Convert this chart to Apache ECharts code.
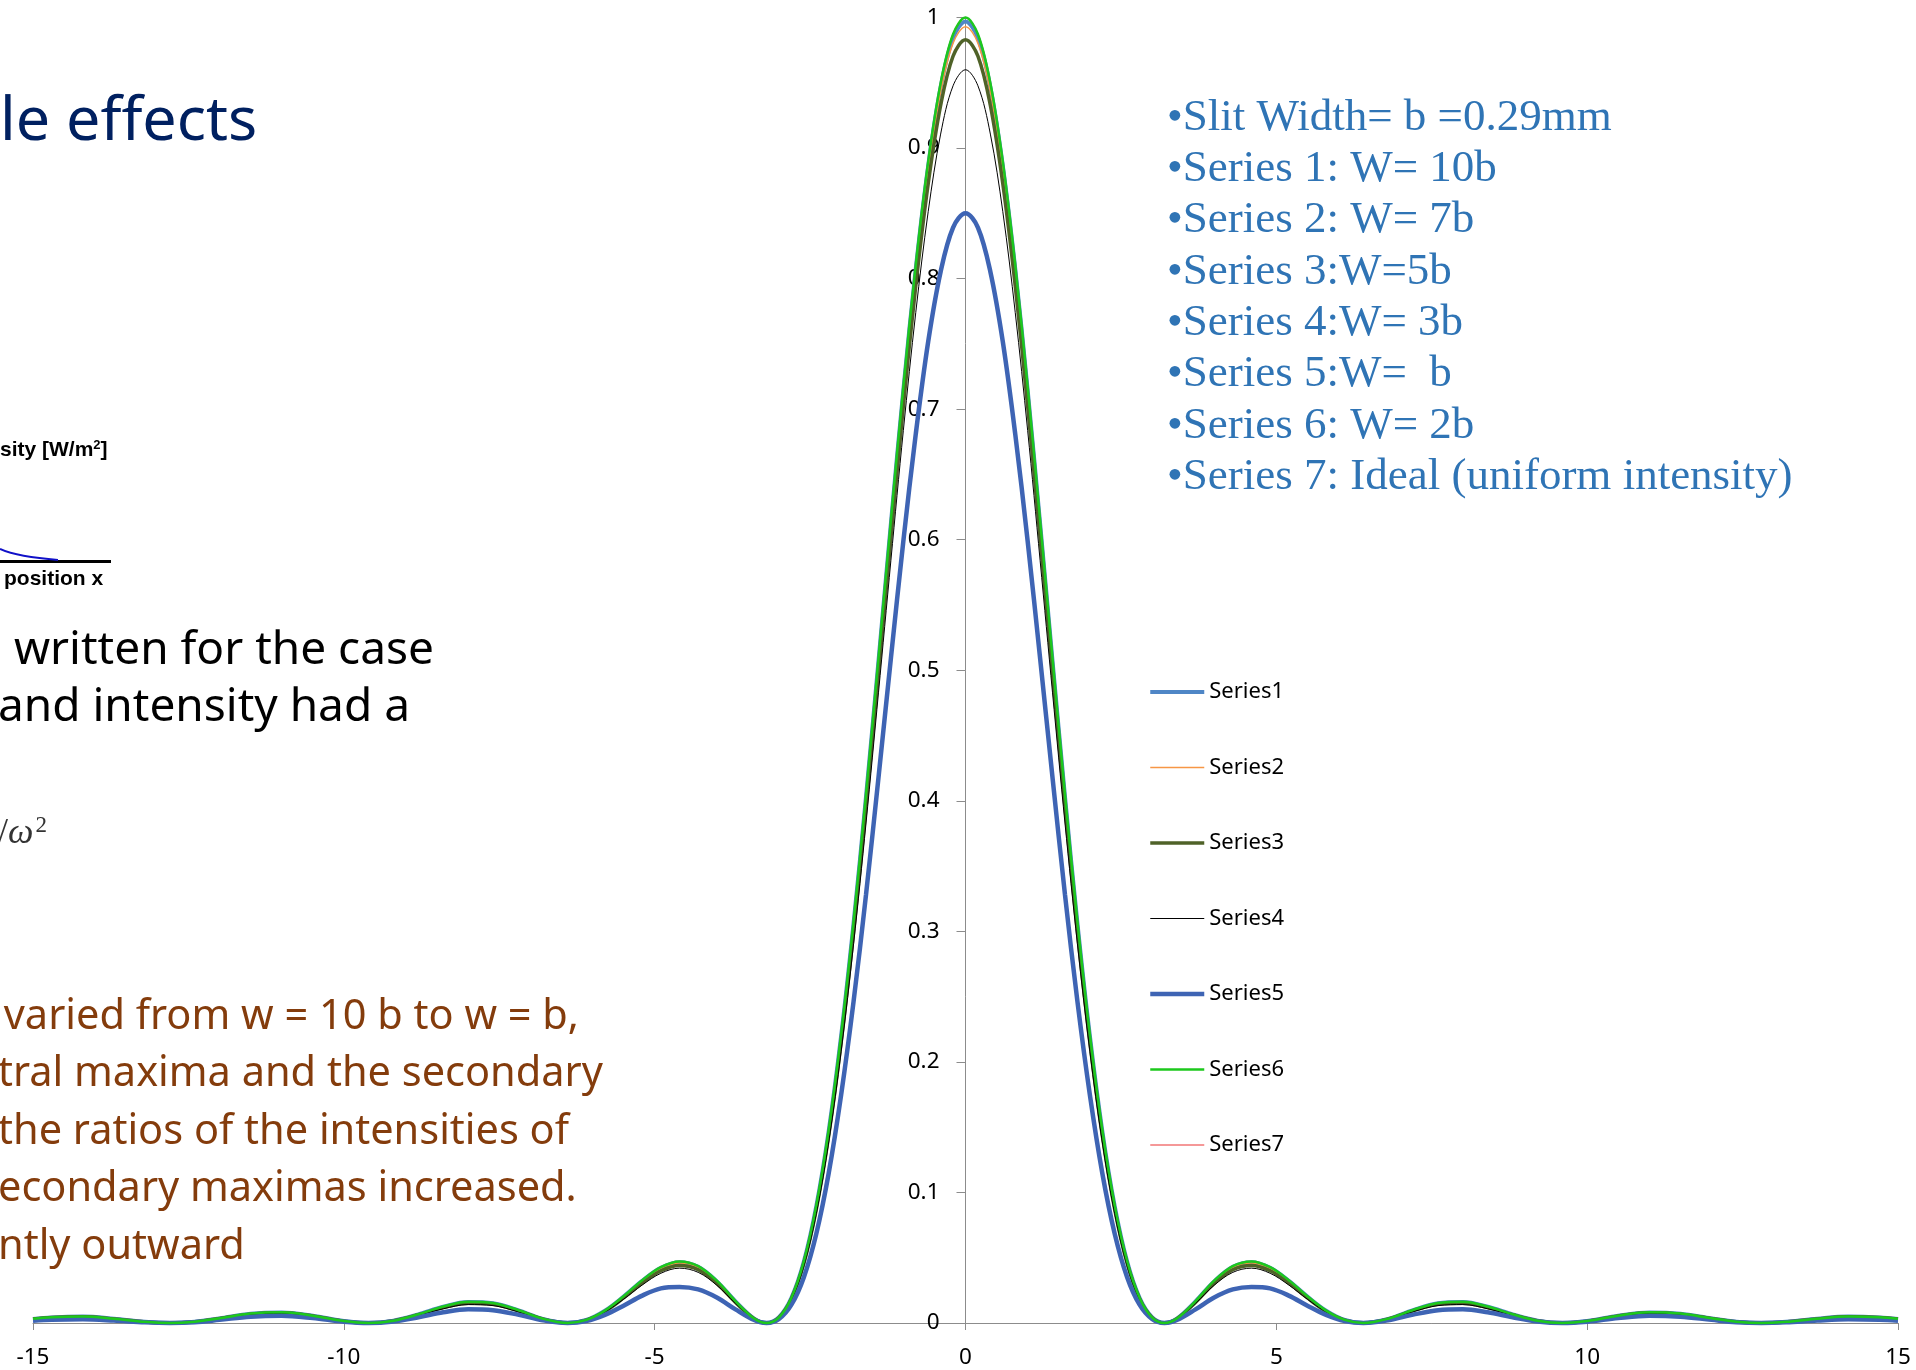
<!DOCTYPE html>
<html>
<head>
<meta charset="utf-8">
<script src="https://cdn.jsdelivr.net/npm/echarts@6/dist/echarts.min.js"></script>
<style>
html,body{margin:0;padding:0;background:#fff;}
#chart{width:1916px;height:1370px;}
</style>
</head>
<body>
<div id="chart"></div>
<script>
// x positions (horizontal axis)
const xValues = [-15,-14.7,-14.2,-13.7,-13.2,-12.8,-12.4,-12,-11.5,-11,-10.5,-10,-9.6,-9.2,-8.8,-8.4,-8,-7.6,-7.2,-6.8,-6.4,-6.1,-5.8,-5.5,-5.2,-4.9,-4.6,-4.3,-4,-3.7,-3.4,-3.2,-3,-2.8,-2.6,-2.4,-2.2,-2,-1.8,-1.6,-1.4,-1.2,-1,-0.8,-0.6,-0.4,-0.2,
0,0.2,0.4,0.6,0.8,1,1.2,1.4,1.6,1.8,2,2.2,2.4,2.6,2.8,3,3.2,3.4,3.7,4,4.3,4.6,4.9,5.2,5.5,5.8,6.1,6.4,6.8,7.2,7.6,8,8.4,8.8,9.2,9.6,10,10.5,11,11.5,12,12.4,12.8,13.2,13.7,14.2,14.7,15];

const series1 = [0.0031,0.0043,0.0049,0.0033,0.0009,0,0.0010,0.0035,0.0071,0.0081,0.0055,0.0015,0,0.0018,0.0066,0.0124,0.0160,0.0151,0.0099,0.0032,0,0.0023,0.0094,0.0202,0.0323,0.0422,0.0465,0.0430,0.0319,0.0166,0.0034,0,0.0044,0.0192,0.0470,0.0895,0.1473,0.2202,0.3065,0.4034,0.5070,0.6125,0.7145,0.8076,0.8865,0.9467,0.9843,
0.997,0.9843,0.9467,0.8865,0.8076,0.7145,0.6125,0.5070,0.4034,0.3065,0.2202,0.1473,0.0895,0.0470,0.0192,0.0044,0,0.0034,0.0166,0.0319,0.0430,0.0465,0.0422,0.0323,0.0202,0.0094,0.0023,0,0.0032,0.0099,0.0151,0.0160,0.0124,0.0066,0.0018,0,0.0015,0.0055,0.0081,0.0071,0.0035,0.0010,0,0.0009,0.0033,0.0049,0.0043,0.0031];

const series2 = [0.0031,0.0043,0.0048,0.0032,0.0008,0,0.0010,0.0035,0.0070,0.0080,0.0055,0.0015,0,0.0018,0.0065,0.0122,0.0158,0.0150,0.0098,0.0032,0,0.0023,0.0093,0.0200,0.0319,0.0417,0.0460,0.0425,0.0316,0.0164,0.0033,0,0.0043,0.0191,0.0467,0.0888,0.1463,0.2187,0.3047,0.4012,0.5041,0.6094,0.7108,0.8041,0.8824,0.9430,0.9803,
0.993,0.9803,0.9430,0.8824,0.8041,0.7108,0.6094,0.5041,0.4012,0.3047,0.2187,0.1463,0.0888,0.0467,0.0191,0.0043,0,0.0033,0.0164,0.0316,0.0425,0.0460,0.0417,0.0319,0.0200,0.0093,0.0023,0,0.0032,0.0098,0.0150,0.0158,0.0122,0.0065,0.0018,0,0.0015,0.0055,0.0080,0.0070,0.0035,0.0010,0,0.0008,0.0032,0.0048,0.0043,0.0031];

const series3 = [0.0030,0.0042,0.0047,0.0031,0.0008,0,0.0009,0.0034,0.0068,0.0078,0.0053,0.0014,0,0.0017,0.0063,0.0118,0.0152,0.0144,0.0094,0.0031,0,0.0022,0.0089,0.0192,0.0306,0.0400,0.0441,0.0408,0.0303,0.0157,0.0032,0,0.0042,0.0186,0.0457,0.0871,0.1436,0.2150,0.2997,0.3951,0.4975,0.6015,0.7022,0.7944,0.8726,0.9326,0.9704,
0.983,0.9704,0.9326,0.8726,0.7944,0.7022,0.6015,0.4975,0.3951,0.2997,0.2150,0.1436,0.0871,0.0457,0.0186,0.0042,0,0.0032,0.0157,0.0303,0.0408,0.0441,0.0400,0.0306,0.0192,0.0089,0.0022,0,0.0031,0.0094,0.0144,0.0152,0.0118,0.0063,0.0017,0,0.0014,0.0053,0.0078,0.0068,0.0034,0.0009,0,0.0008,0.0031,0.0047,0.0042,0.0030];

const series4 = [0.0029,0.0040,0.0045,0.0030,0.0008,0,0.0009,0.0032,0.0065,0.0074,0.0051,0.0014,0,0.0016,0.0058,0.0109,0.0141,0.0133,0.0087,0.0029,0,0.0021,0.0085,0.0182,0.0291,0.0381,0.0420,0.0388,0.0289,0.0151,0.0031,0,0.0040,0.0178,0.0438,0.0838,0.1386,0.2081,0.2905,0.3830,0.4827,0.5842,0.6836,0.7741,0.8513,0.9107,0.9477,
0.960,0.9477,0.9107,0.8513,0.7741,0.6836,0.5842,0.4827,0.3830,0.2905,0.2081,0.1386,0.0838,0.0438,0.0178,0.0040,0,0.0031,0.0151,0.0289,0.0388,0.0420,0.0381,0.0291,0.0182,0.0085,0.0021,0,0.0029,0.0087,0.0133,0.0141,0.0109,0.0058,0.0016,0,0.0014,0.0051,0.0074,0.0065,0.0032,0.0009,0,0.0008,0.0030,0.0045,0.0040,0.0029];

const series5 = [0.0018,0.0025,0.0028,0.0019,0.0005,0,0.0006,0.0024,0.0048,0.0055,0.0038,0.0010,0,0.0012,0.0044,0.0082,0.0105,0.0098,0.0064,0.0021,0,0.0015,0.0062,0.0133,0.0210,0.0265,0.0276,0.0257,0.0195,0.0104,0.0023,0,0.0031,0.0140,0.0351,0.0684,0.1149,0.1749,0.2464,0.3283,0.4176,0.5092,0.5989,0.6809,0.7517,0.8053,0.8391,
0.850,0.8391,0.8053,0.7517,0.6809,0.5989,0.5092,0.4176,0.3283,0.2464,0.1749,0.1149,0.0684,0.0351,0.0140,0.0031,0,0.0023,0.0104,0.0195,0.0257,0.0276,0.0265,0.0210,0.0133,0.0062,0.0015,0,0.0021,0.0064,0.0098,0.0105,0.0082,0.0044,0.0012,0,0.0010,0.0038,0.0055,0.0048,0.0024,0.0006,0,0.0005,0.0019,0.0028,0.0025,0.0018];

const series6 = [0.0032,0.0044,0.0050,0.0033,0.0009,0,0.0010,0.0036,0.0072,0.0083,0.0056,0.0015,0,0.0018,0.0067,0.0126,0.0162,0.0153,0.0100,0.0033,0,0.0024,0.0095,0.0205,0.0328,0.0428,0.0472,0.0436,0.0324,0.0168,0.0034,0,0.0044,0.0194,0.0474,0.0901,0.1482,0.2214,0.3080,0.4053,0.5092,0.6150,0.7173,0.8106,0.8896,0.9497,0.9872,
1.000,0.9872,0.9497,0.8896,0.8106,0.7173,0.6150,0.5092,0.4053,0.3080,0.2214,0.1482,0.0901,0.0474,0.0194,0.0044,0,0.0034,0.0168,0.0324,0.0436,0.0472,0.0428,0.0328,0.0205,0.0095,0.0024,0,0.0033,0.0100,0.0153,0.0162,0.0126,0.0067,0.0018,0,0.0015,0.0056,0.0083,0.0072,0.0036,0.0010,0,0.0009,0.0033,0.0050,0.0044,0.0032];

const series7 = [0.0032,0.0044,0.0050,0.0033,0.0009,0,0.0010,0.0036,0.0072,0.0083,0.0056,0.0015,0,0.0018,0.0067,0.0126,0.0162,0.0153,0.0100,0.0033,0,0.0024,0.0095,0.0205,0.0328,0.0428,0.0472,0.0436,0.0324,0.0168,0.0034,0,0.0044,0.0194,0.0474,0.0901,0.1482,0.2214,0.3080,0.4053,0.5092,0.6150,0.7173,0.8106,0.8896,0.9497,0.9872,
1.000,0.9872,0.9497,0.8896,0.8106,0.7173,0.6150,0.5092,0.4053,0.3080,0.2214,0.1482,0.0901,0.0474,0.0194,0.0044,0,0.0034,0.0168,0.0324,0.0436,0.0472,0.0428,0.0328,0.0205,0.0095,0.0024,0,0.0033,0.0100,0.0153,0.0162,0.0126,0.0067,0.0018,0,0.0015,0.0056,0.0083,0.0072,0.0036,0.0010,0,0.0009,0.0033,0.0050,0.0044,0.0032];

const seriesNames = ['Series1','Series2','Series3','Series4','Series5','Series6','Series7'];
const seriesValues = [series1, series2, series3, series4, series5, series6, series7];

const xTickLabels = ['-15','-10','-5','0','5','10','15'];
const yTickLabels = ['0','0.1','0.2','0.3','0.4','0.5','0.6','0.7','0.8','0.9','1'];

const blueNotes = [
  '\u2022Slit Width= b =0.29mm',
  '\u2022Series 1: W= 10b',
  '\u2022Series 2: W= 7b',
  '\u2022Series 3:W=5b',
  '\u2022Series 4:W= 3b',
  '\u2022Series 5:W=  b',
  '\u2022Series 6: W= 2b',
  '\u2022Series 7: Ideal (uniform intensity)'
];
const brownNotes = [
  ' varied from w = 10 b to w = b,',
  'tral maxima and the secondary',
  'the ratios of the intensities of',
  'econdary maximas increased.',
  'ntly outward'
];
const blackNotes = [' written for the case', 'and intensity had a'];

const styles = [
  {color:'#4F86C6', width:4},
  {color:'#F79646', width:1.5},
  {color:'#4F6228', width:3.5},
  {color:'#000000', width:1},
  {color:'#3E64B4', width:4.5},
  {color:'#1DC81D', width:2.5},
  {color:'#F27676', width:1.5}
];

const chart = echarts.init(document.getElementById('chart'), null, {renderer:'canvas'});

const series = seriesNames.map((name, i) => ({
  name: name,
  type: 'line',
  data: xValues.map((x, k) => [x, seriesValues[i][k]]),
  symbol: 'none',
  smooth: 0.35,
  clip: false,
  z: i === 6 ? 1 : 2 + (i === 5 ? 1 : 0),
  lineStyle: {color: styles[i].color, width: styles[i].width},
  itemStyle: {color: styles[i].color},
  animation: false
}));

const graphics = [];
graphics.push({type:'text', style:{text:'le effects', x:0, y:123, textVerticalAlign:'middle', font:'61px "Noto Sans"', fill:'#002060'}});
graphics.push({type:'text', style:{text:'{a|sity [W/m}{s|2}{a|]}', x:0, y:450, textVerticalAlign:'middle', rich:{a:{font:'bold 21px "Liberation Sans"', fill:'#000'}, s:{font:'bold 13px "Liberation Sans"', fill:'#000', padding:[0,0,9,0]}}}});
graphics.push({type:'text', style:{text:'position x', x:4, y:579, textVerticalAlign:'middle', font:'bold 21px "Liberation Sans"', fill:'#000'}});
graphics.push({type:'line', shape:{x1:0, y1:561.5, x2:111, y2:561.5}, style:{stroke:'#000', lineWidth:3}});
graphics.push({type:'bezierCurve', shape:{x1:0, y1:549, cpx1:18, cpy1:557, x2:58, y2:560}, style:{stroke:'#1010C8', lineWidth:2, fill:null}});
blackNotes.forEach((t, i) => {
  graphics.push({type:'text', style:{text:t, x: i === 0 ? 2 : -2, y:651 + i*57, textVerticalAlign:'middle', font:'46px "Noto Sans"', fill:'#000'}});
});
graphics.push({type:'text', style:{text:'{a|/}{w|\u03C9}{s|2}', x:-2, y:834, textVerticalAlign:'middle', rich:{a:{font:'36px "Liberation Serif"', fill:'#333'}, w:{font:'italic 36px "Liberation Serif"', fill:'#333'}, s:{font:'23px "Liberation Serif"', fill:'#333', padding:[0,0,17,2]}}}});
brownNotes.forEach((t, i) => {
  graphics.push({type:'text', style:{text:t, x: i === 0 ? -7 : -2, y:1017 + i*57.5, textVerticalAlign:'middle', font:'41.5px "Noto Sans"', fill:'#843C0C'}});
});
blueNotes.forEach((t, i) => {
  graphics.push({type:'text', style:{text:t, x:1167, y:118 + i*51.3, textVerticalAlign:'middle', font:'45px "Liberation Serif"', fill:'#2F74B5'}});
});

const legendData = seriesNames.map((name, i) => ({
  name: name,
  lineStyle: {width: styles[i].width, color: styles[i].color},
  itemStyle: {opacity: 0}
}));

const option = {
  animation: false,
  backgroundColor: '#ffffff',
  grid: {left:33, right:18, top:17.5, bottom:47, containLabel:false},
  xAxis: {
    type:'value', min:-15, max:15, interval:5,
    axisLine:{onZero:true, lineStyle:{color:'#8C8C8C', width:1}},
    axisTick:{show:true, length:7, inside:false, lineStyle:{color:'#8C8C8C'}},
    axisLabel:{margin:23, fontFamily:'Noto Sans', fontSize:22.5, color:'#000',
      formatter: (v) => xTickLabels[Math.round((v + 15) / 5)]},
    splitLine:{show:false}
  },
  yAxis: {
    type:'value', min:0, max:1, interval:0.1,
    offset: -932.5,
    axisLine:{show:true, onZero:false, lineStyle:{color:'#8C8C8C', width:1}},
    axisTick:{show:true, length:9, inside:false, lineStyle:{color:'#8C8C8C'}},
    axisLabel:{margin:26, fontFamily:'Noto Sans', fontSize:22.5, color:'#000',
      formatter: (v) => yTickLabels[Math.round(v * 10)]},
    splitLine:{show:false}
  },
  legend: {
    orient:'vertical', left:1148, top:681, padding:0,
    itemWidth:54, itemHeight:22, itemGap:53.5,
    itemStyle:{opacity:0},
    data: legendData,
    textStyle:{fontFamily:'Noto Sans', fontSize:22, color:'#000', padding:[0,0,0,0]}
  },
  graphic: graphics,
  series: series
};
chart.setOption(option);
</script>
</body>
</html>
